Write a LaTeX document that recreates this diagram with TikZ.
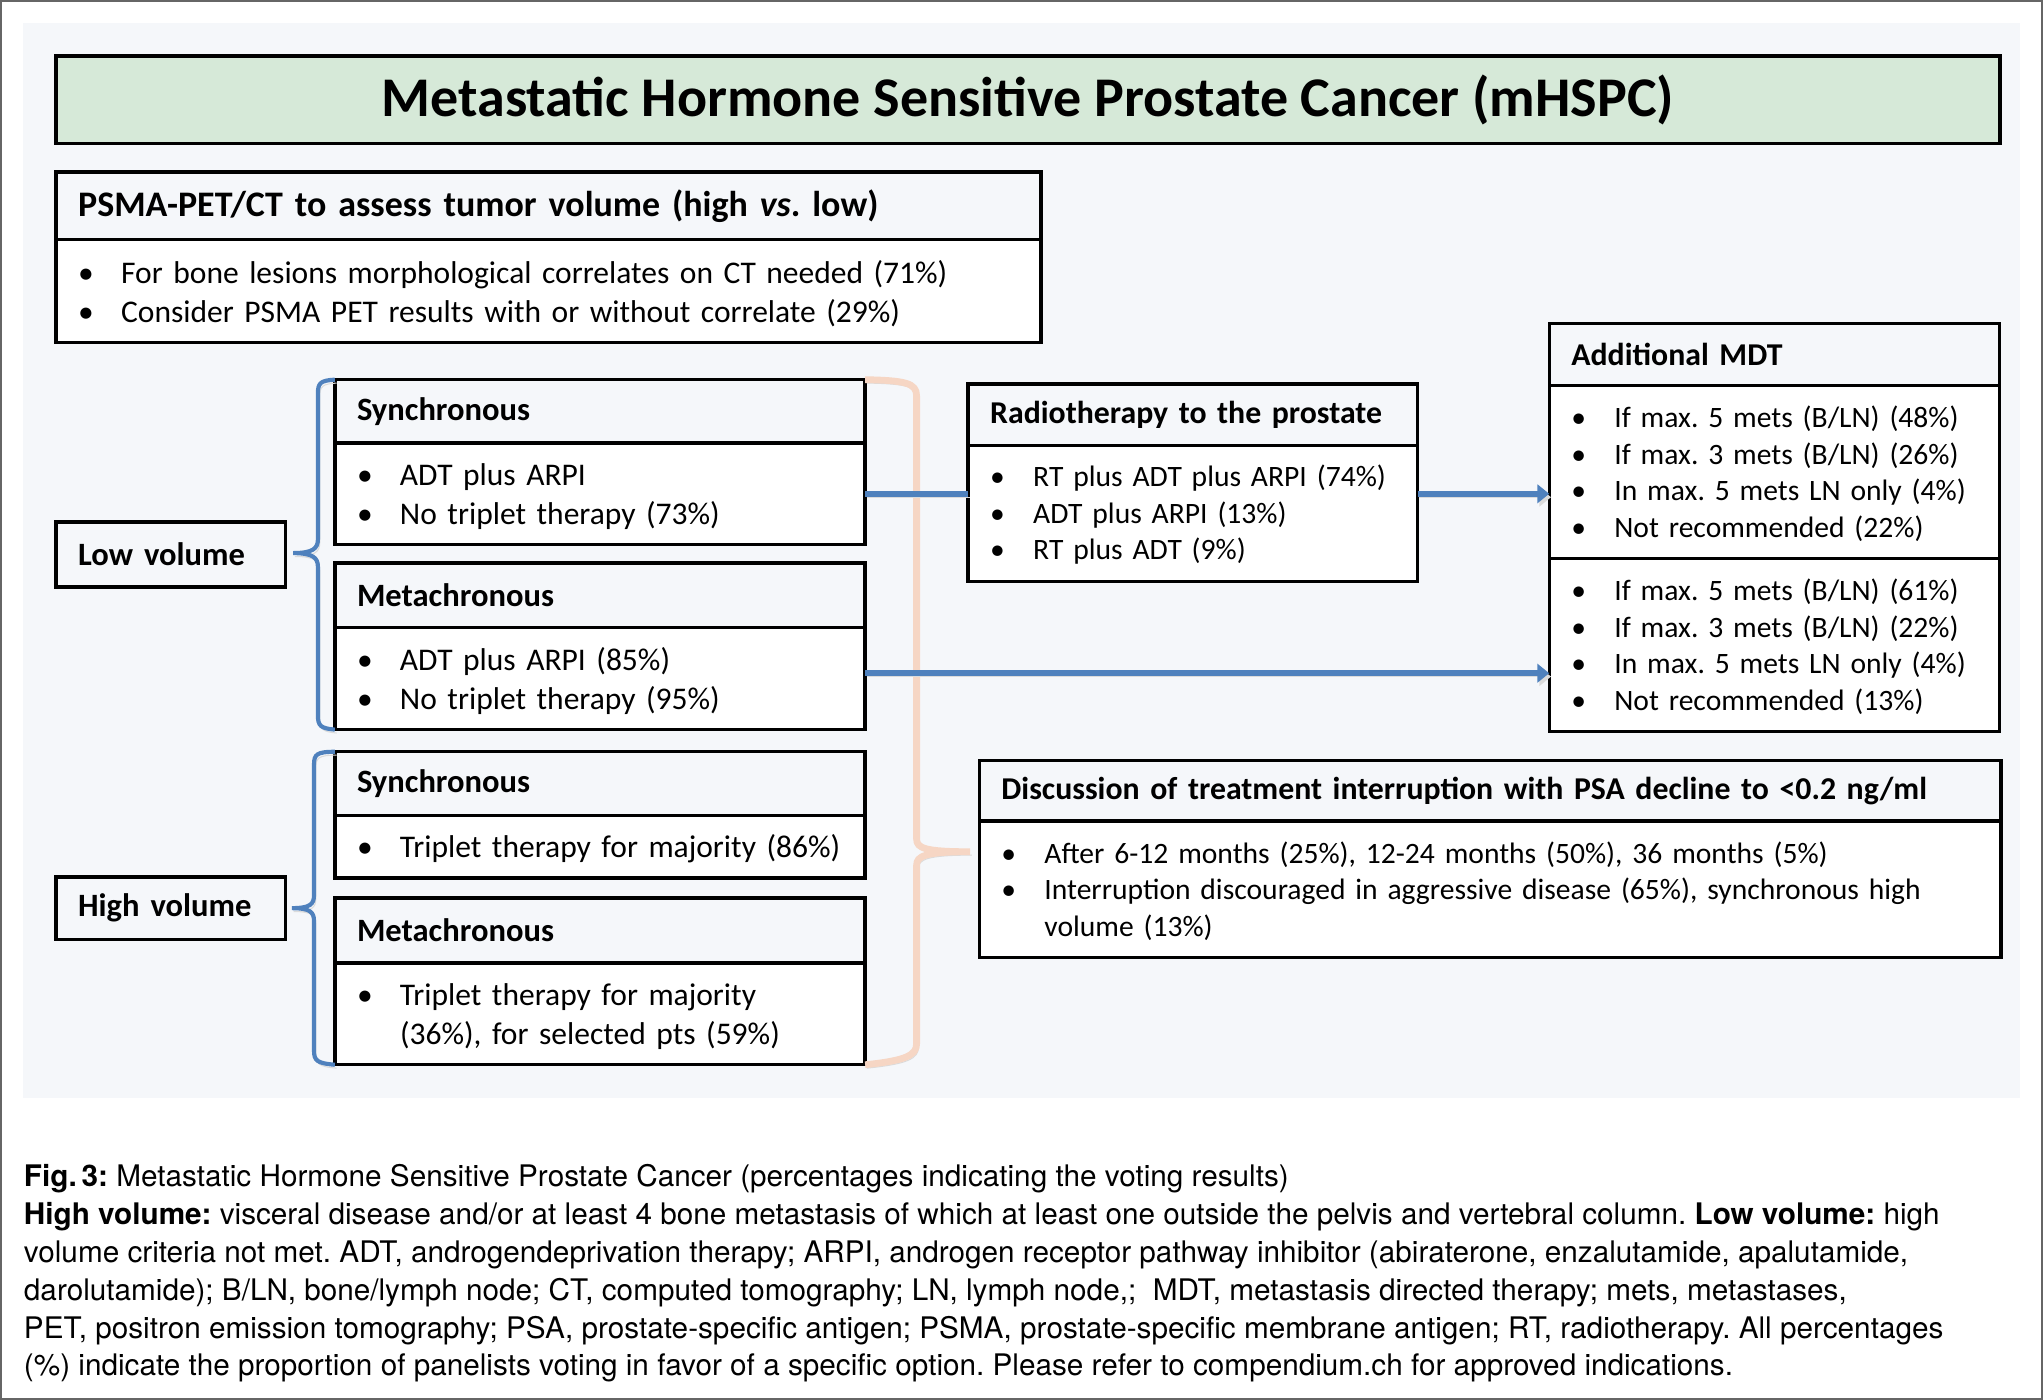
\documentclass[tikz,border=0pt]{standalone}
\usepackage{fontspec}
\setmainfont{Carlito}
\newfontfamily\capfont{TeX Gyre Heros}
\usetikzlibrary{arrows.meta,positioning,calc}
\definecolor{panel}{HTML}{F5F7FA}
\definecolor{titlegreen}{HTML}{D6E9D8}
\definecolor{linkblue}{HTML}{4F81BD}
\definecolor{bracepeach}{HTML}{F6D6C4}
\frenchspacing

% bullet line with hanging indent
\newcommand{\bitem}[1]{\par\noindent\makebox[16.5pt][l]{\textbullet}\parbox[t]{\dimexpr\hsize-16.5pt\relax}{\raggedright #1}}

\tikzset{
  boxbase/.style={draw=black, line width=1.3pt, anchor=north west, outer sep=0pt, inner xsep=8.5pt, inner ysep=0pt, align=left},
  hdr/.style={boxbase, fill=panel, font=\bfseries\fontsize{12.5}{15}\selectfont},
  hdrR/.style={hdr, font=\bfseries\fontsize{12.2}{15}\selectfont},
  itembox/.style={boxbase, fill=white, font=\fontsize{12.1}{15}\selectfont, execute at end node={\par\kern4.5pt}},
  itemboxR/.style={itembox, font=\fontsize{11.35}{14}\selectfont},
  softshade/.style={preaction={draw=black!14, transform canvas={xshift=0.7pt,yshift=-1.3pt}}},
  link/.style={draw=linkblue, line width=2.3pt, softshade},
  linkarrow/.style={link, -{Triangle[length=4.5pt,width=7pt]}},
  bluebrace/.style={draw=linkblue, line width=1.6pt, softshade},
  peachbrace/.style={draw=bracepeach, line width=2.6pt, softshade},
  capline/.style={anchor=base west, inner sep=0pt, font=\capfont\fontsize{11.4}{14}\selectfont},
}

\begin{document}
\begin{tikzpicture}[x=0.5pt, y=-0.5pt]
  \useasboundingbox (0,0) rectangle (1568,1074);
  \draw[black!60, line width=0.8pt] (0.5,0.5) rectangle (1567.5,1073.5);
  \fill[panel] (18,18) rectangle (1550,843);

  % Title
  \node[boxbase, fill=titlegreen, minimum width=746pt, minimum height=33.5pt, font=\bfseries\fontsize{21.5}{25}\selectfont] (title) at (43,43) {Metastatic Hormone Sensitive Prostate Cancer (mHSPC)};

  % PSMA-PET/CT
  \node[hdr, text width=361pt, minimum height=26pt, font=\bfseries\fontsize{13.8}{17}\selectfont] (psmaH) at (43,132) {PSMA-PET/CT to assess tumor volume (high \textit{vs}. low)};
  \node[itembox, text width=361pt, minimum height=39.5pt] (psmaB) at (psmaH.south west) {\bitem{For bone lesions morphological correlates on CT needed (71\%)}\bitem{Consider PSMA PET results with or without correlate (29\%)}};

  % Braces (drawn under the boxes' ends)
  \coordinate (lowTip) at (225,424.5);
  \coordinate (highTip) at (224,697);
  \coordinate (peachTip) at (744.5,653.7);

  % Low volume
  \node[hdr, text width=71pt, minimum height=25pt] (lowVol) at (43,400.5) {Low volume};
  \node[hdr, text width=186.5pt, minimum height=24.3pt] (syncLowH) at (257,291.4) {Synchronous};
  \node[itembox, text width=186.5pt, minimum height=39pt] (syncLowB) at (syncLowH.south west) {\bitem{ADT plus ARPI}\bitem{No triplet therapy (73\%)}};
  \node[hdr, text width=186.5pt, minimum height=24.6pt] (metaLowH) at (257,432.2) {Metachronous};
  \node[itembox, text width=186.5pt, minimum height=39.3pt] (metaLowB) at (metaLowH.south west) {\bitem{ADT plus ARPI (85\%)}\bitem{No triplet therapy (95\%)}};

  % High volume
  \node[hdr, text width=71pt, minimum height=24pt] (highVol) at (43,673) {High volume};
  \node[hdr, text width=186.5pt, minimum height=24.5pt] (syncHighH) at (257,577) {Synchronous};
  \node[itembox, text width=186.5pt, minimum height=24pt] (syncHighB) at (syncHighH.south west) {\bitem{Triplet therapy for majority (86\%)}};
  \node[hdr, text width=186.5pt, minimum height=25pt] (metaHighH) at (257,689.2) {Metachronous};
  \node[itembox, text width=186.5pt, minimum height=39pt] (metaHighB) at (metaHighH.south west) {\bitem{Triplet therapy for majority\\(36\%), for selected pts (59\%)}};

  % Radiotherapy
  \node[hdrR, text width=155.5pt, minimum height=23.7pt] (radioH) at (743,294.7) {Radiotherapy to the prostate};
  \node[itemboxR, text width=155.5pt, minimum height=52pt] (radioB) at (radioH.south west) {\bitem{RT plus ADT plus ARPI (74\%)}\bitem{ADT plus ARPI (13\%)}\bitem{RT plus ADT (9\%)}};

  % Additional MDT
  \node[hdrR, text width=155.75pt, minimum height=23.9pt] (mdtH) at (1189,248.2) {Additional MDT};
  \node[itemboxR, text width=155.75pt, minimum height=66.25pt] (mdtB1) at (mdtH.south west) {\bitem{If max. 5 mets (B/LN) (48\%)}\bitem{If max. 3 mets (B/LN) (26\%)}\bitem{In max. 5 mets LN only (4\%)}\bitem{Not recommended (22\%)}};
  \node[itemboxR, text width=155.75pt, minimum height=66.5pt] (mdtB2) at (mdtB1.south west) {\bitem{If max. 5 mets (B/LN) (61\%)}\bitem{If max. 3 mets (B/LN) (22\%)}\bitem{In max. 5 mets LN only (4\%)}\bitem{Not recommended (13\%)}};

  % Treatment interruption
  \node[hdrR, text width=375pt, minimum height=23.2pt] (discH) at (751.6,583.8) {Discussion of treatment interruption with PSA decline to <0.2 ng/ml};
  \node[itemboxR, text width=375pt, minimum height=52.3pt] (discB) at (discH.south west) {\bitem{After 6-12 months (25\%), 12-24 months (50\%), 36 months (5\%)}\bitem{Interruption discouraged in aggressive disease (65\%), synchronous high\\volume (13\%)}};

  % Braces
  \draw[bluebrace] (syncLowH.north west) .. controls (246,292) and (244,294) .. (244,302) -- (244,414)
    .. controls (244,421) and (240,424.5) .. (lowTip) .. controls (240,424.5) and (244,428) .. (244,435)
    -- (244,549) .. controls (244,557) and (246,559) .. (metaLowB.south west);
  \draw[bluebrace] (syncHighH.north west) .. controls (243,577) and (241,579) .. (241,587) -- (241,687)
    .. controls (241,694) and (238,697) .. (highTip) .. controls (238,697) and (241,700) .. (241,707)
    -- (241,806) .. controls (241,814) and (243,816) .. (metaHighB.south west);
  \draw[peachbrace] (syncLowH.north east) .. controls (695,292) and (703.5,294) .. (703.5,304) -- (703.5,644)
    .. controls (703.5,651) and (710,653.7) .. (peachTip) .. controls (710,653.7) and (703.5,657) .. (703.5,664)
    -- (703.5,801) .. controls (703.5,810) and (695,814) .. (metaHighB.south east);

  % Connectors
  \draw[link] (syncLowB.east) -- (syncLowB.east -| radioB.west);
  \draw[linkarrow] (syncLowB.east -| radioB.east) -- (syncLowB.east -| mdtB1.west);
  \draw[linkarrow] ([yshift=2pt]metaLowB.east) -- ([yshift=2pt]metaLowB.east -| mdtB2.west);

  % Caption
  \node[capline] (cap1) at (18,911) {\textbf{Fig.\,3:} Metastatic Hormone Sensitive Prostate Cancer (percentages indicating the voting results)};
  \node[capline] (cap2) at (18,940) {\textbf{High volume:} visceral disease and/or at least 4 bone metastasis of which at least one outside the pelvis and vertebral column. \textbf{Low volume:} high};
  \node[capline] (cap3) at (18,969) {volume criteria not met. ADT, androgendeprivation therapy; ARPI, androgen receptor pathway inhibitor (abiraterone, enzalutamide, apalutamide,};
  \node[capline] (cap4) at (18,998) {darolutamide); B/LN, bone/lymph node; CT, computed tomography; LN, lymph node,;\ \ MDT, metastasis directed therapy; mets, metastases,};
  \node[capline] (cap5) at (18,1027) {PET, positron emission tomography; PSA, prostate-specific antigen; PSMA, prostate-specific membrane antigen; RT, radiotherapy. All percentages};
  \node[capline] (cap6) at (18,1056) {(\%) indicate the proportion of panelists voting in favor of a specific option. Please refer to compendium.ch for approved indications.};
\end{tikzpicture}
\end{document}
